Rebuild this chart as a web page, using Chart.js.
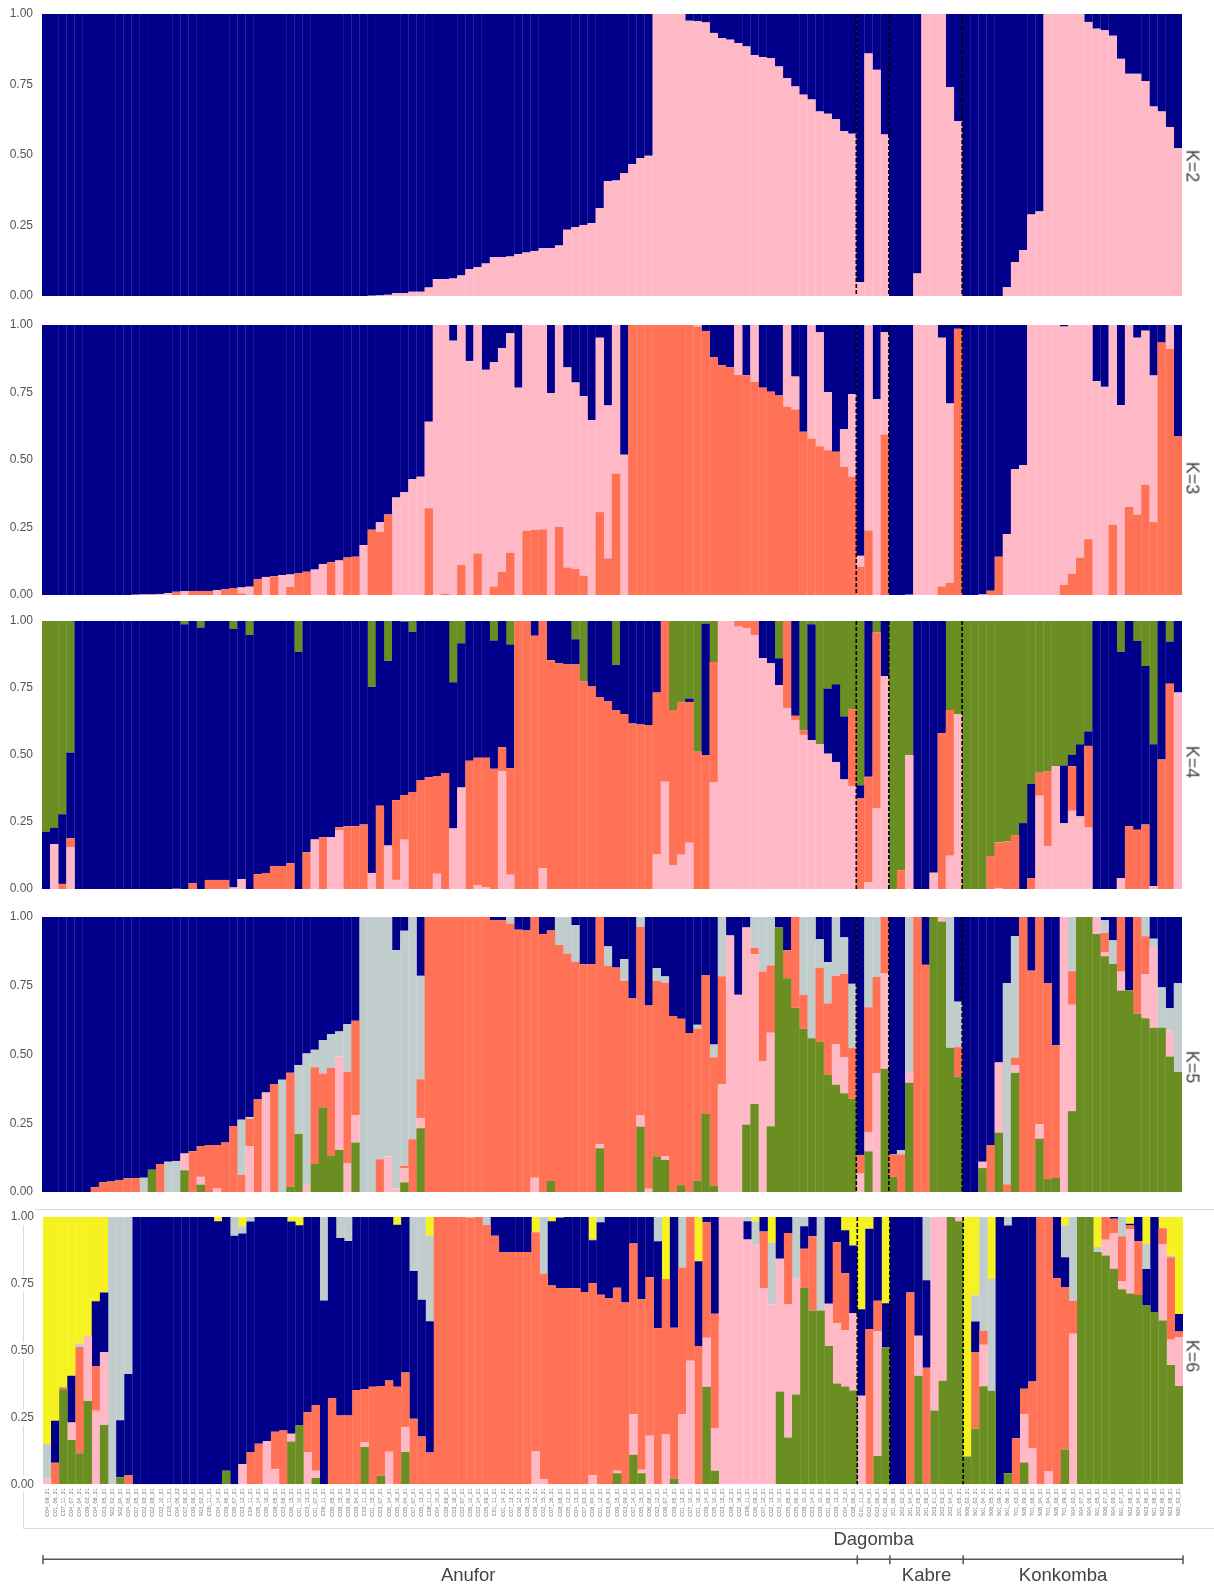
<!DOCTYPE html>
<html>
<head>
<meta charset="utf-8">
<title>Admixture K=2 to K=6</title>
<script src="https://cdn.jsdelivr.net/npm/chart.js@4"></script>
<style>
    html, body { margin: 0; padding: 0; background: #fff; }
    body { position: relative; width: 1214px; height: 1586px; overflow: hidden; font-family: "Liberation Sans", Arial, sans-serif; }
    canvas { position: absolute; left: 0; }
    .marco { position: absolute; left: 23px; top: 1209px; width: 1200px; height: 318px; border: 1px solid #dcdcdc; }
    .etiqueta { position: absolute; left: 1192px; font-size: 18px; color: #444; transform: translate(-50%, -50%) rotate(90deg); white-space: nowrap; }
</style>
</head>
<body>
<div class="marco"></div>
<script>
// Samples, one bar each, read as well as the tiny labels allow
const sampleIds = [
    "C04_09_31","C01_06_31","C07_11_31","C04_07_31","C04_04_31","C09_02_31","C04_08_31","C03_05_31","S02_02_31","S02_04_31",
    "C04_06_31","C07_05_31","C02_03_31","C02_08_31","C02_10_31","C03_11_31","C04_06_32","C07_08_31","C09_08_31","S03_02_31",
    "C05_11_31","C04_14_31","C09_06_31","C06_07_31","C03_12_31","C04_11_31","C05_14_31","C06_16_31","C08_05_31","C03_08_31",
    "C06_15_31","C01_10_31","C03_13_31","C01_07_31","C06_11_31","C06_05_31","C08_15_31","C09_06_32","C09_04_31","C02_11_31",
    "C01_15_31","C03_07_31","C06_14_31","C05_16_31","C05_04_31","C07_07_31","C05_13_31","C08_11_31","C04_10_31","C08_09_31",
    "C03_16_31","C02_07_31","C06_10_31","C02_14_31","C05_09_31","C01_11_31","C01_14_31","C07_13_31","C06_12_31","C08_13_31",
    "C09_12_31","C02_15_31","C07_16_31","C08_08_31","C05_12_31","C04_13_31","C07_03_31","C08_04_31","C01_12_31","C03_04_31",
    "C09_15_31","C03_09_31","C07_14_31","C05_15_31","C06_08_31","C02_12_31","C08_07_31","C09_05_31","C01_13_31","C07_10_31",
    "C01_16_31","C09_14_31","C05_10_31","C03_15_31","C08_12_31","C02_16_31","C09_11_31","C06_09_31","C07_12_31","C02_13_31",
    "C03_10_31","C05_05_31","C05_06_31","C08_10_31","C03_14_31","C09_10_31","C01_09_31","C09_13_31","C04_12_31","C08_06_31",
    "G01_11_31","G02_04_31","G02_06_31","G01_08_31","Z01_06_31","Z02_02_31","Z01_04_31","Z02_05_31","Z01_08_31","Z03_01_31",
    "Z02_03_31","Z02_04_31","Z01_05_31","S06_02_31","S01_02_31","S01_04_31","S06_05_31","S01_09_31","S01_06_31","T01_03_31",
    "S06_09_31","T01_06_31","S06_04_31","T01_04_31","S06_08_31","T01_09_31","S04_02_31","S04_07_31","S04_06_31","S01_05_31",
    "S06_07_31","S04_09_31","S01_07_31","S02_08_31","S04_04_31","S03_06_31","S01_08_31","S02_06_31","S03_08_31","S00_02_31"
];

// Groups along the bottom
const groupNames = ["Anufor", "Dagomba", "Kabre", "Konkomba"];
const groupSizes = [100, 4, 9, 27];

const yTicks = [0, 0.25, 0.5, 0.75, 1];

// Each list gives the top edge of one colour in every bar, from the bottom of the stack up.
// The colour left over fills the bar up to 1.00.

// K=2
const k2Pink = [
    0,0,0,0,0,0,0,0,0,0,
    0,0,0,0,0,0,0,0,0,0,
    0,0,0,0,0,0,0,0,0,0,
    0,0,0,0,0,0,0,0,0,0,
    .001,.002,.004,.01,.01,.015,.015,.03,.06,.06,
    .062,.073,.095,.103,.115,.137,.137,.14,.149,.154,
    .16,.169,.17,.179,.235,.244,.252,.258,.312,.407,
    .41,.435,.467,.489,.497,1,1,1,1,.976,
    .974,.97,.933,.914,.909,.897,.885,.854,.847,.844,
    .814,.773,.743,.714,.697,.654,.646,.627,.585,.575,
    .049,.86,.802,.573,0,0,0,.08,1,1,
    1,.741,.621,0,0,0,0,0,.031,.12,
    .163,.289,.30,1,1,1,1,1,.972,.948,
    .942,.923,.841,.788,.788,.762,.672,.654,.599,.524
];

// K=3
const k3Orange = [
    0,0,0,0,0,0,0,0,0,0,
    0,0,0,0,0,0,.012,0,.015,.015,
    .015,0,.021,.026,.006,0,.059,0,.069,0,
    .03,.081,.086,0,0,.121,0,.139,.142,0,
    .242,.234,.298,0,0,0,0,.321,0,.004,
    0,.112,0,.154,0,.031,.086,.157,0,.238,
    .241,.243,0,.252,.102,.096,.072,0,.307,.136,
    .45,0,1,1,1,1,1,1,1,1,
    .994,.978,.88,.851,.843,.815,.814,.789,.768,.753,
    .739,.697,.687,.605,.58,.551,.536,.531,.475,.438,
    .105,.239,0,.594,0,0,0,0,0,0,
    .032,.046,.986,0,0,0,.016,.142,0,0,
    0,0,0,0,0,.037,.078,.139,.207,0,
    0,.26,0,.326,.298,.408,.27,.935,.912,.587
];
const k3Pink = [
    0,0,0,0,0,0,0,0,0,0,
    0,.001,.002,.002,.004,.007,.012,.014,.015,.015,
    .015,.018,.021,.026,.028,.031,.059,.067,.069,.074,
    .076,.081,.086,.094,.115,.121,.128,.139,.142,.185,
    .242,.269,.298,.361,.381,.429,.438,.642,1,1,
    .942,1,.867,1,.834,.862,.915,.969,.768,1,
    1,1,.748,1,.843,.787,.736,.647,.953,.702,
    1,.519,1,1,1,1,1,1,1,1,
    1,.978,.88,.851,.843,1,.814,1,.768,.753,
    .739,1,.809,.605,1,.973,.751,.531,.614,.744,
    .145,1,.725,.973,0,0,.001,1,1,1,
    .953,.709,.986,0,0,.002,.016,.142,.226,.466,
    .481,1,1,1,1,.994,1,1,1,.792,
    .771,1,.703,1,.953,.979,.813,.935,1,.587
];

// K=4
const k4Pink = [
    0,.167,0,.155,0,0,0,0,0,0,
    0,0,0,0,0,0,0,0,0,0,
    0,0,0,.006,.037,0,0,0,0,0,
    0,0,0,.185,0,.193,.22,0,0,0,
    .06,0,.162,.034,.184,0,0,0,.057,0,
    .226,.379,0,.015,.006,0,.44,.053,0,0,
    0,.077,0,0,0,0,0,0,0,0,
    0,0,0,0,0,.129,.4,.088,.128,.173,
    0,0,.399,1,1,.979,.974,.948,.862,.842,
    .761,.675,.631,.575,.556,.541,.505,.474,.409,.384,
    0,.025,.301,.794,0,0,.5,0,0,.061,
    0,.124,.653,0,0,0,0,.004,0,0,
    0,0,.348,.159,.458,.245,.292,.271,.229,0,
    0,0,.041,0,0,0,.011,0,0,.733
];
const k4Orange = [
    0,.167,.019,.19,0,0,0,0,0,0,
    0,0,0,0,0,0,.001,0,.022,0,
    .034,.034,.034,.006,.037,0,.055,.06,.086,.086,
    .096,0,.137,.185,.193,.193,.23,.234,.234,.241,
    .06,.311,.162,.331,.35,.362,.407,.417,.422,.433,
    .226,.379,.479,.49,.49,.449,.529,.451,1,1,
    .945,1,.854,.842,.838,.838,.774,.757,.716,.7,
    .668,.653,.618,.614,.612,.733,1,.668,.698,.698,
    .512,.5,.847,1,1,1,1,1,.862,.842,
    .761,1,.646,.592,.556,.541,.505,.474,.409,.67,
    .338,.419,.957,.794,0,.07,.5,0,0,.061,
    .581,.668,.653,0,0,0,.123,.174,.177,.201,
    0,.04,.434,.44,.458,.245,.458,.271,.534,0,
    0,0,.041,.234,.221,.241,.011,.483,.766,.733
];
const k4Navy = [
    .213,.228,.279,.509,1,1,1,1,1,1,
    1,1,1,1,1,1,1,.988,1,.976,
    1,1,1,.97,1,.948,1,1,1,1,
    1,.884,1,1,1,1,1,1,1,1,
    .755,1,.852,1,.998,.959,1,1,1,1,
    .771,.917,1,1,1,.927,1,.912,1,1,
    1,1,1,1,1,.932,.774,1,1,1,
    .836,1,1,1,1,1,1,.668,.698,.711,
    .512,.991,.847,1,1,1,1,1,1,1,
    .861,1,1,.592,.988,.541,.748,.764,.644,.67,
    .387,1,.957,1,0,.07,.5,1,1,1,
    1,.668,.653,0,0,0,.123,.174,.177,.201,
    .246,.392,.434,.44,.458,.461,.501,.54,.588,1,
    1,1,.884,1,.925,.832,.54,1,.923,1
];

// K=5
const k5Green = [
    0,0,0,0,0,0,0,0,0,0,
    0,0,0,.081,0,0,0,.079,0,.027,
    0,0,0,0,0,0,0,0,0,0,
    .019,.211,0,.102,.308,.132,.153,0,.18,0,
    0,0,0,0,.035,0,.232,0,0,0,
    0,0,0,0,0,0,0,0,0,0,
    0,0,.04,0,0,0,0,0,.159,0,
    0,0,0,.238,0,.13,.117,0,.025,0,
    .041,.285,.023,0,0,0,.245,.32,0,.239,
    .962,.777,.67,.593,.559,.546,.426,.39,.359,.339,
    0,.148,0,.448,.055,0,.397,0,0,1,
    .984,.525,.42,0,0,.087,0,.216,0,.434,
    0,0,.194,.047,.051,0,.294,1,1,.938,
    .857,.829,.733,.733,.648,.632,.597,.597,.493,.436
];
const k5Pink = [
    0,0,0,0,0,0,0,0,0,0,
    0,0,0,.081,0,0,0,.14,0,.055,
    0,.013,0,0,0,.167,0,.362,0,0,
    .019,.211,.025,.102,.308,.132,.493,.104,.279,0,
    0,0,.129,.013,.086,0,.268,0,0,0,
    0,0,0,0,0,0,0,0,0,0,
    .052,0,.04,0,0,0,0,0,.175,0,
    0,0,0,.278,.012,.13,.129,0,.025,0,
    .041,.285,.023,.391,.933,.717,.962,.865,.475,.579,
    .962,.777,.67,.593,.559,.546,.426,.538,.489,.339,
    .067,.216,.433,.796,.055,0,.433,0,0,1,
    1,.525,.42,0,0,.11,0,.471,0,.462,
    0,0,.246,.047,.051,1,.681,1,1,1,
    .871,.829,.801,.733,.648,.792,.891,.597,.587,.436
];
const k5Orange = [
    0,0,0,0,0,0,.017,.036,.038,.044,
    .05,.05,0,.081,.102,0,0,.14,.148,.167,
    .171,.171,.18,.24,.062,.266,.336,.362,.393,0,
    .434,.211,.025,.454,.431,.451,.493,.437,.623,0,
    0,.119,.129,.013,.096,.192,.41,1,1,1,
    1,1,1,1,1,.988,.988,.976,.954,.951,
    1,.938,.951,.898,.867,.837,.828,.828,1,.823,
    .816,.768,.704,.965,.678,.767,.762,.64,.63,.578,
    .595,.789,.49,.785,.933,.717,.962,.888,.802,.824,
    .962,.879,1,.717,.559,.816,.686,.786,.794,.525,
    .135,.672,.782,1,.137,.137,.433,1,.826,1,
    1,.525,.527,0,0,.11,.171,.471,.028,.489,
    1,.805,1,.76,.534,1,.803,1,1,1,
    .942,.829,1,.733,1,.93,.891,.597,.587,.436
];
const k5Gray = [
    0,0,0,0,0,0,.017,.036,.038,.044,
    .05,.05,.052,.081,.102,.11,.113,.14,.148,.167,
    .171,.171,.18,.24,.263,.273,.336,.362,.393,.408,
    .434,.462,.504,.517,.552,.574,.584,.61,.623,1,
    1,1,1,.88,.95,1,.786,1,1,1,
    1,1,1,1,1,.988,.988,1,.954,.951,
    1,.938,.951,1,1,.971,.828,.828,1,.893,
    .816,.847,.704,1,.678,.814,.784,.64,.63,.578,
    .608,.789,.536,1,.933,.717,.962,1,1,1,
    .962,.879,1,1,1,.919,.836,1,.926,.757,
    .135,1,1,1,.137,.152,1,1,.826,1,
    1,1,.692,0,0,.11,.171,.471,.76,.931,
    1,.805,1,.76,.534,1,1,1,1,1,
    .988,.915,1,.733,1,1,.921,.744,.669,.76
];

// K=6
const k6Green = [
    0,0,.356,.166,.116,.312,0,.222,0,.026,
    0,0,0,0,0,0,0,0,0,0,
    0,0,.051,0,0,0,0,0,0,0,
    .16,.22,0,.024,0,0,0,0,0,.14,
    0,.032,0,0,.121,0,0,0,0,0,
    0,0,0,0,0,0,0,0,0,0,
    0,0,0,0,0,0,0,0,0,0,
    .041,0,.111,.041,0,0,0,.022,0,0,
    0,.365,.051,0,0,0,0,0,0,0,
    .347,.175,.336,.734,.65,.65,.517,.377,.366,.351,
    0,0,.106,.512,0,0,0,.406,0,.276,
    .387,1,.984,.104,.208,.367,.35,0,.041,0,
    .082,0,0,0,0,.13,0,1,1,.869,
    .856,.806,.73,.714,.708,.669,.645,.613,.446,.368
];
const k6Pink = [
    .022,0,.356,.231,.116,.556,.275,.494,0,.026,
    0,0,0,0,0,0,0,0,0,0,
    0,0,.051,0,.075,0,0,.162,.056,0,
    .189,.22,.121,.051,0,0,0,0,0,.156,
    0,.032,.122,0,.213,0,0,0,0,0,
    0,0,0,0,0,0,0,0,0,0,
    .125,.019,0,0,0,0,0,.034,0,0,
    .051,0,.262,.054,.182,0,.186,.022,.263,.462,
    0,.548,.21,1,1,1,.916,.896,.733,.674,
    .844,.674,.769,.734,.65,.65,.675,.603,.576,.64,
    .331,0,.572,.512,0,0,0,.556,0,1,
    1,1,1,.104,.208,.522,.35,0,.041,0,
    .262,.135,0,.05,0,.13,.563,1,1,.869,
    .915,.938,.759,.955,.708,.669,.645,.899,.541,.549
];
const k6Orange = [
    .022,.081,.363,.231,.514,.556,.443,.494,0,.026,
    .035,0,0,0,0,0,0,0,0,0,
    0,0,.051,0,.075,.121,.152,.162,.197,.201,
    .189,.22,.27,.296,0,.322,.257,.257,.353,.356,
    .365,.368,.388,.365,.418,.245,.179,.119,1,1,
    1,1,.998,1,.97,.93,.869,.869,.869,.869,
    .943,.788,.744,.734,.733,.733,.719,.752,.709,.697,
    .735,.68,.901,.692,.775,.584,.768,.586,.811,1,
    .517,.98,.638,1,1,1,.916,.896,.946,.674,
    .844,.94,.769,.881,.928,.65,.675,.906,.79,.64,
    .331,.58,.687,.512,0,0,.718,.556,.436,1,
    1,1,1,.104,.494,.574,.35,0,.041,.172,
    .357,.385,1,1,.772,.738,.687,1,1,.869,
    1,.993,.928,.968,.909,.669,.645,.958,.849,.572
];
const k6Navy = [
    .022,.238,.363,.406,.514,.556,.685,.718,0,.24,
    .413,1,1,1,1,1,1,1,1,1,
    1,.984,1,.93,.938,.983,1,1,1,1,
    .983,.969,1,1,.688,1,.921,.91,1,1,
    1,1,1,.971,1,.798,.69,.61,1,1,
    1,1,.998,1,.97,1,1,1,1,1,
    .943,.788,.984,.998,1,1,1,.913,.98,1,
    1,1,1,1,1,.909,.768,1,.811,1,
    .834,1,1,1,1,1,.984,.896,1,.674,
    1,1,.769,.965,1,.65,1,1,.95,.893,
    .655,.956,1,.677,1,1,1,1,.763,1,
    1,1,1,.104,.609,.574,.35,1,.968,1,
    1,1,1,1,1,.849,.687,1,1,.869,
    1,1,.928,.975,1,.805,1,.958,.849,.637
];
const k6Gray = [
    .151,.238,.363,.406,.527,.556,.685,.718,1,1,
    1,1,1,1,1,1,1,1,1,1,
    1,.984,1,1,.965,1,1,1,1,1,
    .983,.969,1,1,1,1,1,1,1,1,
    1,1,1,.971,1,1,1,.93,1,1,
    1,1,.998,1,1,1,1,1,1,1,
    .943,1,.984,.998,1,1,1,.918,1,1,
    1,1,1,1,1,1,.768,1,1,1,
    .834,1,1,1,1,1,1,.984,1,.905,
    1,1,1,1,1,1,1,1,.95,.893,
    .655,.956,1,.677,1,1,1,1,1,1,
    1,1,1,.104,.707,1,.769,1,1,1,
    1,1,1,1,1,.968,1,1,1,.888,
    1,1,1,.975,1,.899,1,.958,.855,.637
];

const NAVY = "#00008B", PINK = "#FFB9C6", ORANGE = "#FF7256", GREEN = "#6B8E23", GRAY = "#C1CDCD", YELLOW = "#F6F21F";

const panels = [
    { name: "K=2", tops: [k2Pink], colors: [PINK, NAVY], top: 14.3, bottom: 296, left: 42, nameY: 166 },
    { name: "K=3", tops: [k3Orange, k3Pink], colors: [ORANGE, PINK, NAVY], top: 325, bottom: 595.3, left: 42, nameY: 478 },
    { name: "K=4", tops: [k4Pink, k4Orange, k4Navy], colors: [PINK, ORANGE, NAVY, GREEN], top: 621, bottom: 889, left: 42, nameY: 762 },
    { name: "K=5", tops: [k5Green, k5Pink, k5Orange, k5Gray], colors: [GREEN, PINK, ORANGE, GRAY, NAVY], top: 917.3, bottom: 1192, left: 42, nameY: 1067 },
    { name: "K=6", tops: [k6Green, k6Pink, k6Orange, k6Navy, k6Gray], colors: [GREEN, PINK, ORANGE, NAVY, GRAY, YELLOW], top: 1217.3, bottom: 1484.3, left: 43, nameY: 1356, last: true }
];

// Turns the top edges of a stack into the height of each colour
function alturas(tops) {
    const todos = [...tops, sampleIds.map(() => 1)];
    return todos.map((lista, s) => lista.map((v, i) => s === 0 ? v : Math.max(0, v - todos[s - 1][i])));
}

// Dashed lines between the groups
const lineasGrupos = {
    id: "lineasGrupos",
    afterDatasetsDraw(chart) {
        const { ctx, chartArea, scales } = chart;
        let acumulado = 0;
        ctx.save();
        ctx.strokeStyle = "#000";
        ctx.lineWidth = 1.6;
        ctx.setLineDash([4, 2]);
        groupSizes.slice(0, -1).forEach(n => {
            acumulado += n;
            const x = scales.x.getPixelForValue(acumulado - 0.5);
            ctx.beginPath();
            ctx.moveTo(x, chartArea.top);
            ctx.lineTo(x, chartArea.bottom);
            ctx.stroke();
        });
        ctx.restore();
    }
};

// Bracket and group names under the last panel
const corcheteGrupos = {
    id: "corcheteGrupos",
    afterDraw(chart) {
        const { ctx, chartArea, scales } = chart;
        const yLinea = chartArea.bottom + 75;
        let acumulado = 0;
        const xInicio = scales.x.getPixelForValue(-0.5);
        const xFin = scales.x.getPixelForValue(sampleIds.length - 0.5);
        ctx.save();
        ctx.strokeStyle = "#555";
        ctx.lineWidth = 1.5;
        ctx.beginPath();
        ctx.moveTo(xInicio, yLinea);
        ctx.lineTo(xFin, yLinea);
        ctx.moveTo(xInicio, yLinea - 4);
        ctx.lineTo(xInicio, yLinea + 5);
        ctx.stroke();
        ctx.fillStyle = "#444";
        ctx.font = '18.5px "Liberation Sans", Arial, sans-serif';
        ctx.textAlign = "center";
        ctx.textBaseline = "middle";
        // The names do not sit quite in the middle of their stretch
        const corrimiento = { Anufor: 18, Konkomba: -10 };
        groupSizes.forEach((n, g) => {
            const x0 = scales.x.getPixelForValue(acumulado - 0.5);
            acumulado += n;
            const x1 = scales.x.getPixelForValue(acumulado - 0.5);
            ctx.beginPath();
            ctx.moveTo(x1, yLinea - 4);
            ctx.lineTo(x1, yLinea + 5);
            ctx.stroke();
            // Dagomba does not fit under its short stretch, so it sits above the line
            const arriba = groupNames[g] === "Dagomba";
            const xNombre = (x0 + x1) / 2 + (corrimiento[groupNames[g]] || 0);
            ctx.fillText(groupNames[g], xNombre, arriba ? yLinea - 19 : yLinea + 17);
        });
        ctx.restore();
    }
};

function dibujarPanel(p) {
    const margen = 24;
    // The x axis box takes this height, shown or not, so it sets the space under the bars
    const abajoEje = p.last ? 1586 - p.bottom : margen;
    const alto = p.bottom - p.top + margen + abajoEje;

    const canvas = document.createElement("canvas");
    canvas.width = 1214;
    canvas.height = Math.round(alto);
    canvas.style.top = (p.top - margen) + "px";
    document.body.appendChild(canvas);

    const nombre = document.createElement("div");
    nombre.className = "etiqueta";
    nombre.style.top = p.nameY + "px";
    nombre.textContent = p.name;
    document.body.appendChild(nombre);

    const segmentos = alturas(p.tops);

    new Chart(canvas.getContext("2d"), {
        type: "bar",
        data: {
            labels: sampleIds,
            datasets: segmentos.map((valores, s) => ({
                label: p.name + " " + s,
                data: valores,
                backgroundColor: p.colors[s],
                borderWidth: 0,
                barPercentage: 1,
                categoryPercentage: 1.03
            }))
        },
        options: {
            responsive: false,
            animation: false,
            devicePixelRatio: 1,
            layout: { padding: { left: 10, right: 1214 - p.left - 1140, top: margen, bottom: 0 } },
            plugins: { legend: { display: false }, tooltip: { enabled: false } },
            scales: {
                x: {
                    stacked: true,
                    display: !!p.last,
                    grid: { display: false, drawTicks: false },
                    border: { display: false },
                    afterFit: s => { s.height = abajoEje; },
                    ticks: {
                        autoSkip: false,
                        minRotation: 90,
                        maxRotation: 90,
                        padding: 4,
                        color: "#777",
                        font: { size: 5.5, family: '"Liberation Sans", Arial, sans-serif' }
                    }
                },
                y: {
                    stacked: true,
                    min: 0,
                    max: 1,
                    grid: { display: false, drawTicks: false },
                    border: { display: false },
                    afterFit: s => { s.width = p.left - 10; },
                    afterBuildTicks: s => { s.ticks = yTicks.map(v => ({ value: v })); },
                    ticks: {
                        padding: 9,
                        color: "#555",
                        font: { size: 12, family: '"Liberation Sans", Arial, sans-serif' },
                        callback: v => v.toFixed(2),
                        showLabelBackdrop: !!p.last,
                        backdropColor: "#fff",
                        backdropPadding: 1
                    }
                }
            }
        },
        plugins: p.last ? [lineasGrupos, corcheteGrupos] : [lineasGrupos]
    });
}

panels.forEach(dibujarPanel);
</script>
</body>
</html>
